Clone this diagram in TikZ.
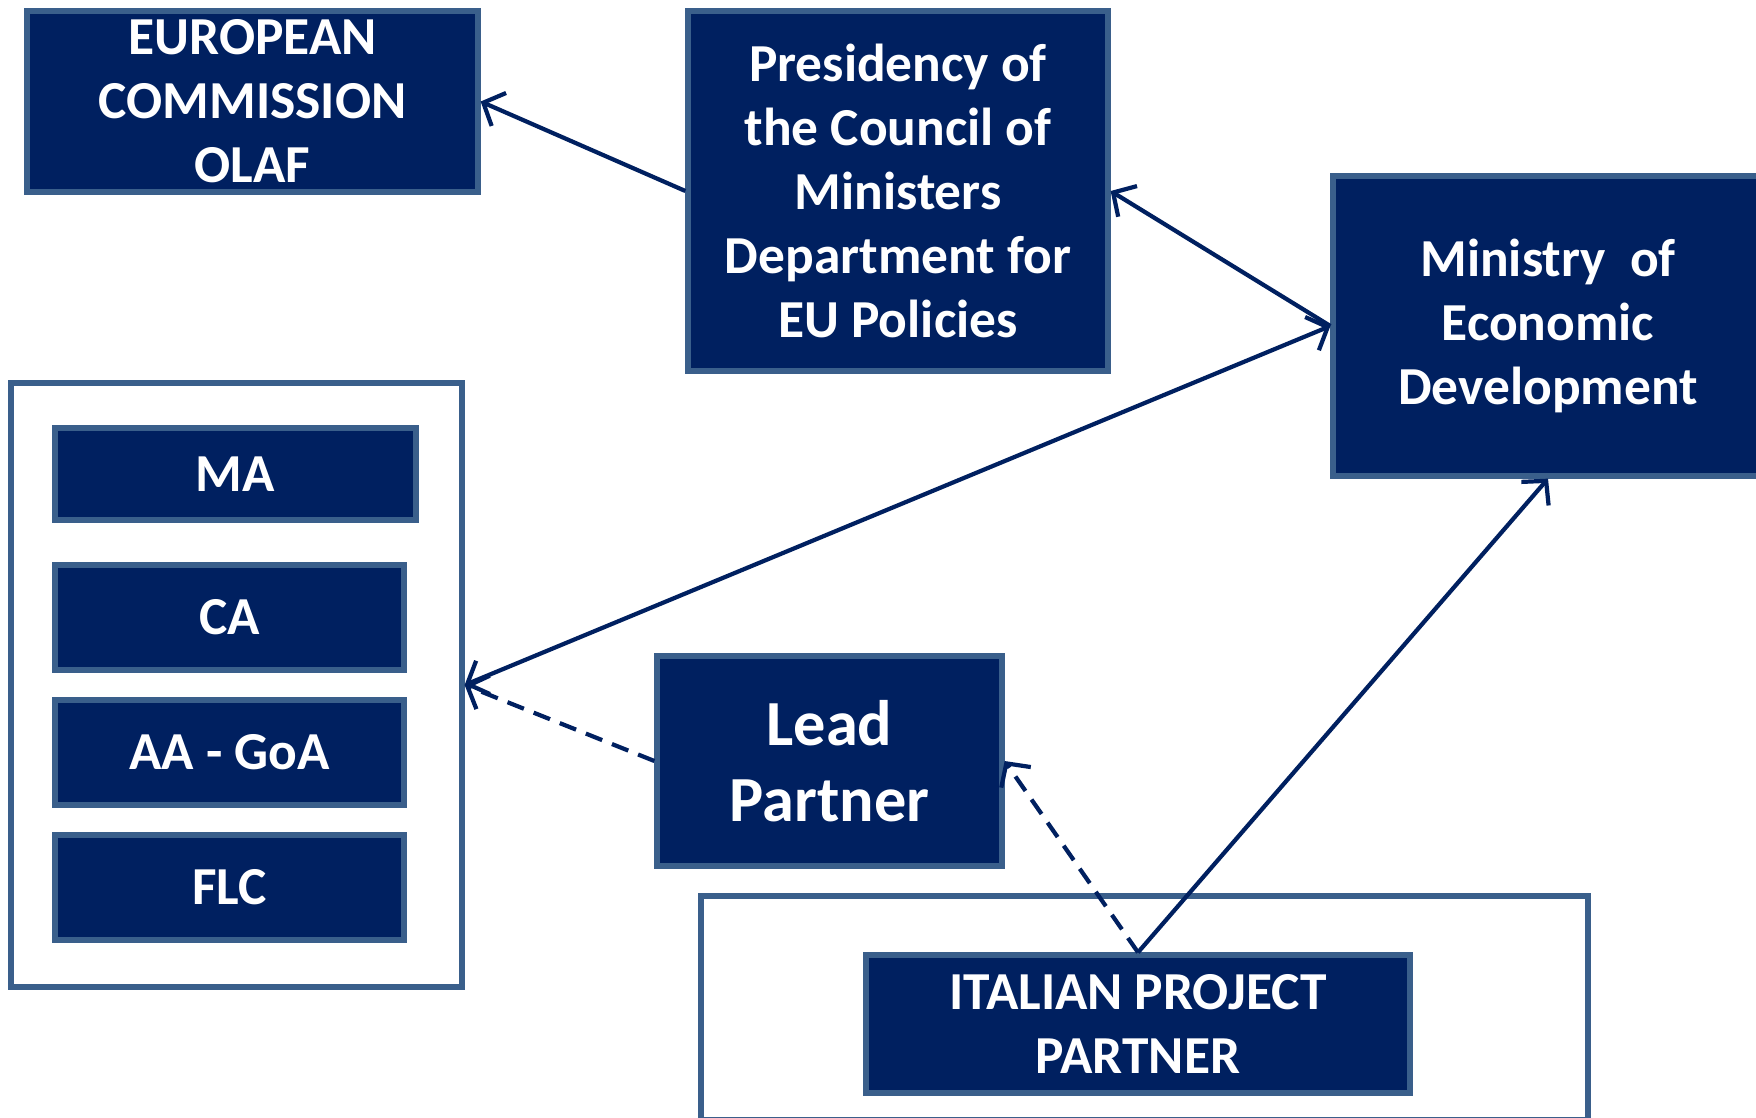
\documentclass[tikz,border=0pt]{standalone}
\usepackage{fontspec}
\setmainfont{Carlito}
\usepackage{tikz}
\usetikzlibrary{positioning,
        arrows.meta}
\usepackage{xcolor}
\definecolor{boxfill}{HTML}{002060}
\definecolor{boxline}{HTML}{3A5F8B}

\begin{document}
\begin{tikzpicture}[
        box/.style={rectangle,draw=boxline,fill=boxfill,line width=1.5pt,text=white,align=center,
                font=\bfseries\fontsize{15.2}{18.2}\selectfont,inner sep=0pt},
        frame/.style={rectangle,draw=boxline,line width=1.5pt,inner sep=0pt},
        link/.style={draw=boxfill,line width=1.2pt},
        >={Straight Barb[length=1.7mm,width=3.6mm]}]
            \useasboundingbox (0,0) rectangle (17.56,-11.17);
            % outer frames
            \node [frame,minimum width=4.51cm,minimum height=6.04cm] (grp) at (2.365,-6.85) {};
            \node [frame,minimum width=8.87cm,minimum height=2.24cm] (ipframe) at (11.445,-10.08) {};

            \node [box,minimum width=4.51cm,minimum height=1.81cm] (ec) at (2.525,-1.015) {EUROPEAN\\COMMISSION\\OLAF};
            \node [box,minimum width=4.20cm,minimum height=3.60cm] (pres) at (8.98,-1.91) {Presidency of\\the Council of\\Ministers\\Department for\\EU Policies};
            \node [box,minimum width=4.30cm,minimum height=3.00cm] (med) at (15.48,-3.26) {Ministry\ \ of\\Economic\\Development};

            \node [box,minimum width=3.61cm,minimum height=0.92cm] (ma) at (2.355,-4.74) {MA};
            \node [box,minimum width=3.49cm,minimum height=1.05cm] (ca) at (2.295,-6.175) {CA};
            \node [box,minimum width=3.49cm,minimum height=1.05cm] (aa) at (2.295,-7.525) {AA - GoA};
            \node [box,minimum width=3.49cm,minimum height=1.05cm] (flc) at (2.295,-8.875) {FLC};

            \node [box,minimum width=3.45cm,minimum height=2.10cm,font=\bfseries\fontsize{18.3}{21.6}\selectfont] (lp) at (8.295,-7.61) {Lead\\Partner};
            \node [box,minimum width=5.44cm,minimum height=1.38cm] (ipp) at (11.38,-10.24) {ITALIAN PROJECT\\PARTNER};

            % connectors
            \draw [link,->] (pres.west) -- (ec.east);
            \draw [link,->] (med.west) -- (pres.east);
            \draw [link,<->] (grp.east) -- (med.west);
            \draw [link,dash pattern=on 5pt off 3pt,->] (lp.west) -- (grp.east);
            \draw [link,dash pattern=on 5pt off 3pt,->] (ipp.north) -- (lp.east);
            \draw [link,->] (ipp.north) -- (med.south);
        \end{tikzpicture}
\end{document}
